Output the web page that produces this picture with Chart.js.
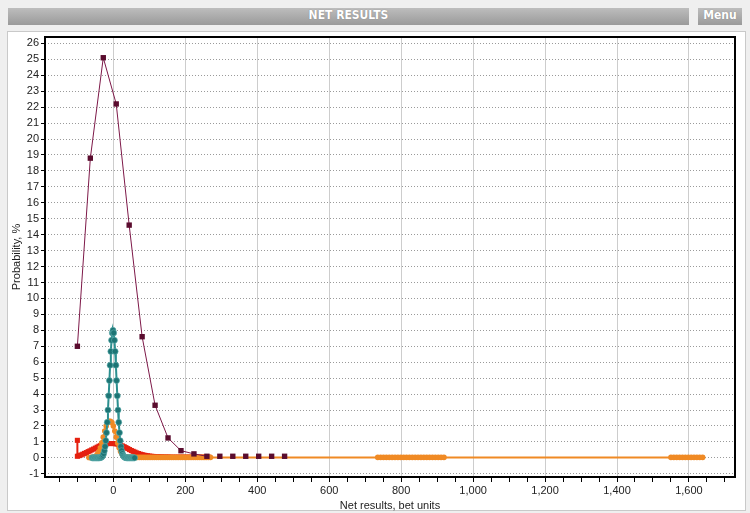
<!DOCTYPE html>
<html>
<head>
<meta charset="utf-8">
<script src="https://cdn.jsdelivr.net/npm/chart.js@4/dist/chart.umd.min.js"></script>
<style>
  html, body { margin: 0; padding: 0; background: #efefef; }
  body { width: 750px; height: 513px; position: relative; overflow: hidden; font-family: "Liberation Sans", Arial, sans-serif; }
  .bar { position: absolute; top: 8px; height: 17px; line-height: 17px; color: #fff; text-align: center;
         font: bold 12px "DejaVu Sans Condensed", "DejaVu Sans", sans-serif;
         background: linear-gradient(#bdbdbd, #9a9a9a); text-shadow: 0 0 1px #777; }
  #title { left: 8px; width: 681px; }
  #menu { left: 698px; width: 44px; }
  #panel { position: absolute; left: 7px; top: 31px; width: 737px; height: 478px; background: #fff; border: 1px solid #c9c9c9; }
  #chart { position: absolute; left: 0; top: 0; }
</style>
</head>
<body>
<div class="bar" id="title">NET RESULTS</div>
<div class="bar" id="menu">Menu</div>
<div id="panel"></div>
<canvas id="chart" width="750" height="513"></canvas>
<script>
// labelled x ticks and y ticks
const xTickLabels = [0, 200, 400, 600, 800, 1000, 1200, 1400, 1600];
const yTickValues = [-1, 0, 1, 2, 3, 4, 5, 6, 7, 8, 9, 10, 11, 12, 13, 14, 15, 16, 17, 18, 19, 20, 21, 22, 23, 24, 25, 26];

// purple series (squares)
const purpleX = [-100, -64, -28, 8, 44, 80, 116, 152, 188, 224, 260, 296, 332, 368, 404, 440, 476];
const purpleY = [7.0, 18.8, 25.1, 22.2, 14.6, 7.6, 3.3, 1.25, 0.45, 0.25, 0.1, 0.1, 0.1, 0.1, 0.1, 0.1, 0.1];

// teal series (narrow peak)
const tealX = [-59, -57, -55, -53, -51, -49, -47, -45, -43, -41, -39, -37, -35, -33, -31, -29, -27, -25, -23, -21,
               -19, -17, -15, -13, -11, -9, -7, -5, -3, -1,
               1, 3, 5, 7, 9, 11, 13, 15, 17, 19, 21, 23, 25, 27, 29, 31, 33, 35, 37, 39,
               41, 43, 45, 47, 49, 51, 53, 55, 57, 59];
const tealY = [0, 0, 0, 0, 0, 0, 0, 0, 0, 0, 0, 0.01, 0.02, 0.05, 0.09, 0.16, 0.27, 0.45, 0.71, 1.08,
               1.58, 2.23, 3.0, 3.89, 4.85, 5.81, 6.68, 7.38, 7.84, 8.0,
               7.84, 7.38, 6.68, 5.81, 4.85, 3.89, 3.0, 2.23, 1.58, 1.08, 0.71, 0.45, 0.27, 0.16, 0.09, 0.05, 0.02, 0.01, 0, 0,
               0, 0, 0, 0, 0, 0, 0, 0, 0, 0];

// orange series (peak plus long tail)
const orangeX = [-68, -64, -60, -56, -52, -48, -44, -40, -36, -32, -28, -24, -20, -16, -12, -8, -4, 0, 4, 8, 12, 16, 20,
                 24, 28, 32, 36, 40, 44, 48, 52, 56, 60, 66, 72, 78, 84, 90, 96, 102, 108, 114, 120, 126, 132, 138, 144,
                 150, 156, 162, 168, 174, 180, 186, 192, 198, 204, 210, 216, 222, 228, 234, 240, 246, 252, 258, 264, 270,
                 735, 743, 751, 759, 767, 775, 783, 791, 799, 807, 815, 823, 831, 839, 847, 855, 863, 871, 879, 887, 895,
                 903, 911, 919, 1550, 1558, 1566, 1574, 1582, 1590, 1598, 1606, 1614, 1622, 1630, 1638];
const orangeY = [0.02, 0.02, 0.03, 0.05, 0.07, 0.13, 0.24, 0.4, 0.63, 0.94, 1.3, 1.68, 2.0, 2.22, 2.3, 2.3, 2.22, 2.0, 1.68,
                 1.3, 0.94, 0.63, 0.4, 0.24, 0.13, 0.08, 0.06, 0.05, 0.04, 0.04, 0.03, 0.03, 0.03, 0.03, 0.03, 0.03, 0.03,
                 0.03, 0.03, 0.03, 0.03, 0.03, 0.03, 0.03, 0.03, 0.03, 0.03, 0.03, 0.03, 0.03, 0.03, 0.03, 0.03, 0.03,
                 0.03, 0.03, 0.03, 0.03, 0.03, 0.03, 0.03, 0.03, 0.03, 0.03, 0.03, 0.03, 0.03, 0.03,
                 0.03, 0.03, 0.03, 0.03, 0.03, 0.03, 0.03, 0.03, 0.03, 0.03, 0.03, 0.03, 0.03, 0.03, 0.03, 0.03, 0.03,
                 0.03, 0.03, 0.03, 0.03, 0.03, 0.03, 0.03, 0.03, 0.03, 0.03, 0.03, 0.03, 0.03, 0.03, 0.03, 0.03, 0.03,
                 0.03, 0.03];

// red series (wide flat peak, spike at the left end)
const redX = [-100, -100, -95, -90, -85, -80, -75, -70, -65, -60, -55, -50, -45, -40, -35, -30, -25, -20, -15, -10, -5, 0, 5,
              10, 15, 20, 25, 30, 35, 40, 45, 50, 55, 60, 65, 70, 75, 80, 85, 90, 95, 100, 105, 110, 115, 120, 125, 130,
              135, 140, 145, 150, 155, 160, 165, 170, 175, 180, 185, 190, 195, 200, 205, 210, 215, 220, 225, 230, 235,
              240, 245, 250, 255, 260, 265];
const redY = [1.1, 0.1, 0.14, 0.18, 0.23, 0.28, 0.33, 0.39, 0.44, 0.5, 0.55, 0.61, 0.67, 0.73, 0.78, 0.82, 0.86, 0.88, 0.9, 0.9,
              0.9, 0.9, 0.89, 0.87, 0.84, 0.8, 0.75, 0.7, 0.64, 0.58, 0.52, 0.46, 0.41, 0.36, 0.31, 0.27, 0.23, 0.2,
              0.17, 0.15, 0.13, 0.11, 0.1, 0.09, 0.08, 0.07, 0.07, 0.06, 0.06, 0.05, 0.05, 0.05, 0.05, 0.04, 0.04, 0.04,
              0.04, 0.04, 0.04, 0.04, 0.04, 0.04, 0.04, 0.04, 0.04, 0.04, 0.04, 0.04, 0.04, 0.04, 0.04, 0.04, 0.04,
              0.04, 0.04];

const pts = (xs, ys) => xs.map((x, i) => ({ x: x, y: ys[i] }));

// minor ticks every 50 on the x axis, only 200s get a label and a grid line
const xMinor = [];
for (let v = -150; v <= 1700; v += 50) xMinor.push(v);

const purpleLine = '#7d1848';

// black frame round the plot area
const frame = {
  id: 'frame',
  afterDraw(chart) {
    const a = chart.chartArea, c = chart.ctx;
    c.save();
    c.strokeStyle = '#000';
    c.lineWidth = 2;
    c.strokeRect(a.left, a.top, a.right - a.left, a.bottom - a.top);
    c.restore();
  }
};

new Chart(document.getElementById('chart'), {
  type: 'line',
  data: {
    datasets: [
      {
        data: pts(purpleX, purpleY), borderColor: purpleLine, borderWidth: 1,
        pointStyle: 'rect', pointRadius: 3.8, pointBackgroundColor: '#5a0c2e', pointBorderColor: '#5a0c2e', pointBorderWidth: 0,
        segment: { borderColor: ctx => ctx.p0.parsed.x >= 260 ? 'rgba(0,0,0,0)' : purpleLine }
      },
      {
        data: pts(tealX, tealY), borderColor: '#2a8f8f', borderWidth: 2,
        pointRadius: 3, pointBackgroundColor: '#1d7474', pointBorderColor: '#5fb0b0', pointBorderWidth: 0.6
      },
      {
        data: pts(orangeX, orangeY), borderColor: '#f08a24', borderWidth: 2,
        pointRadius: 2.8, pointBackgroundColor: '#f08a24', pointBorderWidth: 0
      },
      {
        data: pts(redX, redY), borderColor: '#e5200f', borderWidth: 2,
        pointStyle: 'rect', pointRadius: 3.6, pointBackgroundColor: '#e5200f', pointBorderWidth: 0
      }
    ]
  },
  options: {
    responsive: false,
    animation: false,
    devicePixelRatio: 1,
    layout: { padding: { left: 8, top: 37, right: 15, bottom: 0 } },
    plugins: { legend: { display: false }, tooltip: { enabled: false } },
    elements: { line: { tension: 0 } },
    scales: {
      x: {
        type: 'linear', min: -190, max: 1728,
        afterBuildTicks: s => { s.ticks = xMinor.map(v => ({ value: v })); },
        afterFit: s => { s.height = 36; },
        ticks: {
          autoSkip: false, maxRotation: 0, padding: 2, color: '#222',
          font: { family: 'Liberation Sans', size: 11 },
          callback: v => xTickLabels.includes(v) ? v.toLocaleString('en-US') : ''
        },
        grid: {
          color: ctx => (ctx.tick && xTickLabels.includes(ctx.tick.value)) ? '#cdcdcd' : 'rgba(0,0,0,0)',
          tickColor: '#000', tickLength: 5, lineWidth: 1
        },
        border: { display: false },
        title: { display: true, text: 'Net results, bet units', color: '#222', padding: { top: 0, bottom: 0 },
                 font: { family: 'Liberation Sans', size: 11 } }
      },
      y: {
        min: -1.2, max: 26.4,
        afterBuildTicks: s => { s.ticks = yTickValues.map(v => ({ value: v })); },
        afterFit: s => { s.width = 37; },
        ticks: { autoSkip: false, padding: 2, color: '#222', font: { family: 'Liberation Sans', size: 11 } },
        grid: { color: '#9a9a9a', tickColor: '#000', tickLength: 4, lineWidth: 1 },
        border: { display: false, dash: [1, 2] },
        title: { display: true, text: 'Probability, %', color: '#222', padding: { top: 2, bottom: 0 },
                 font: { family: 'Liberation Sans', size: 11 } }
      }
    }
  },
  plugins: [frame]
});
</script>
</body>
</html>
